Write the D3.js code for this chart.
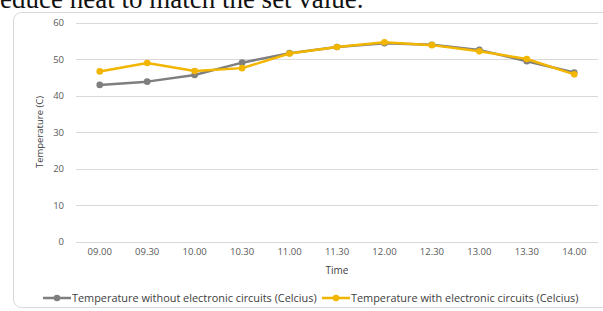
<!DOCTYPE html>
<html lang="en">
<head>
<meta charset="utf-8">
<script src="https://d3js.org/d3.v7.min.js"></script>
<style>
  body { margin: 0; background: #fff; }
  svg { display: block; }
</style>
</head>
<body>
<script>
    var width = 603;
    var height = 311;

    // chart data
    var times = ["09.00", "09.30", "10.00", "10.30", "11.00", "11.30", "12.00", "12.30", "13.00", "13.30", "14.00"];
    var without_circuits = [42.9, 43.8, 45.6, 49.0, 51.6, 53.3, 54.3, 53.9, 52.5, 49.4, 46.3];
    var with_circuits = [46.6, 48.9, 46.7, 47.5, 51.5, 53.3, 54.6, 53.8, 52.1, 50.0, 45.8];
    var y_ticks = [0, 10, 20, 30, 40, 50, 60];
    var series_names = ["Temperature without electronic circuits (Celcius)", "Temperature with electronic circuits (Celcius)"];

    var grey = "#7f7f7f";
    var gold = "#f2b500";
    var font = "'Open Sans', sans-serif";

    var svg = d3.select("body")
                .append("svg")
                .attr("width", width)
                .attr("height", height);

    // bit of the page text above the chart, cut by the crop
    svg.append("text")
       .attr("x", -9)
       .attr("y", 8)
       .style("font-family", "'Liberation Serif', serif")
       .style("font-size", "27px")
       .attr("fill", "#111")
       .text("reduce heat to match the set value.");

    // chart frame
    svg.append("rect")
       .attr("x", 13.5)
       .attr("y", 12.5)
       .attr("width", 620)
       .attr("height", 295)
       .attr("rx", 8)
       .attr("fill", "white")
       .attr("stroke", "#d9d9d9");

    var x = d3.scaleBand().domain(times).range([76, 598]);
    var y = d3.scaleLinear().domain([0, 60]).range([241.5, 22.5]);

    // horizontal gridlines
    svg.append("g")
       .selectAll("line")
       .data(y_ticks)
       .enter().append("line")
       .attr("x1", 76).attr("x2", 598)
       .attr("y1", function (d) { return Math.round(y(d)) + 0.5; })
       .attr("y2", function (d) { return Math.round(y(d)) + 0.5; })
       .attr("stroke", "#d9d9d9");

    // y axis labels
    var yAxis = svg.append("g")
       .attr("transform", "translate(64,0)")
       .call(d3.axisLeft(y).tickValues(y_ticks).tickSize(0).tickPadding(0));
    yAxis.select(".domain").remove();
    yAxis.selectAll("text")
         .style("font-family", font)
         .style("font-size", "9.5px")
         .attr("fill", "#595959");

    // x axis labels
    var xAxis = svg.append("g")
       .attr("transform", "translate(0,248)")
       .call(d3.axisBottom(x).tickSize(0).tickPadding(0));
    xAxis.select(".domain").remove();
    xAxis.selectAll("text")
         .style("font-family", font)
         .style("font-size", "9.5px")
         .attr("fill", "#595959");

    // axis titles
    svg.append("text")
       .attr("x", 337)
       .attr("y", 274)
       .attr("text-anchor", "middle")
       .style("font-family", font)
       .style("font-size", "10px")
       .attr("fill", "#404040")
       .text("Time");

    svg.append("text")
       .attr("transform", "translate(43,132) rotate(-90)")
       .attr("text-anchor", "middle")
       .style("font-family", font)
       .style("font-size", "9.5px")
       .attr("fill", "#404040")
       .text("Temperature (C)");

    var line = d3.line()
                 .x(function (d, i) { return x(times[i]) + x.bandwidth() / 2; })
                 .y(function (d) { return y(d); });

    function drawSeries(values, colour) {
        svg.append("path")
           .datum(values)
           .attr("d", line)
           .attr("fill", "none")
           .attr("stroke", colour)
           .attr("stroke-width", 2.5)
           .attr("stroke-linejoin", "round");
        svg.append("g")
           .selectAll("circle")
           .data(values)
           .enter().append("circle")
           .attr("cx", function (d, i) { return x(times[i]) + x.bandwidth() / 2; })
           .attr("cy", function (d) { return y(d); })
           .attr("r", 3.3)
           .attr("fill", colour);
    }

    drawSeries(without_circuits, grey);
    drawSeries(with_circuits, gold);

    // legend
    var legend_x = [43, 322];
    var colours = [grey, gold];
    series_names.forEach(function (name, i) {
        var g = svg.append("g").attr("transform", "translate(" + legend_x[i] + ",298)");
        g.append("line")
         .attr("x1", 0).attr("x2", 28)
         .attr("stroke", colours[i])
         .attr("stroke-width", 2.5);
        g.append("circle")
         .attr("cx", 14).attr("r", 3.3)
         .attr("fill", colours[i]);
        g.append("text")
         .attr("x", 29)
         .attr("y", 3.5)
         .style("font-family", font)
         .style("font-size", "10.9px")
         .attr("fill", "#404040")
         .text(name);
    });
</script>
</body>
</html>
